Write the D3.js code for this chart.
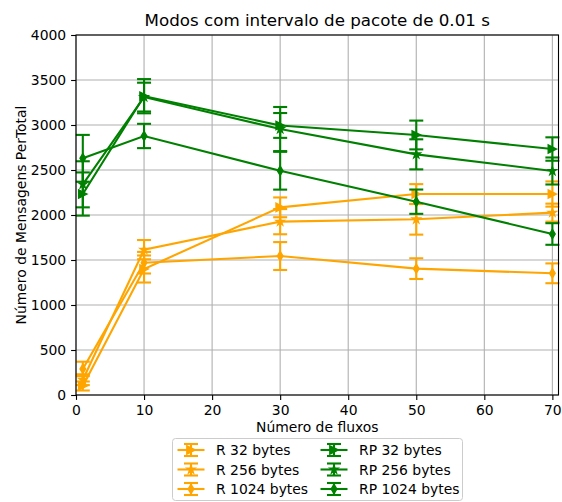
<!DOCTYPE html>
<html>
<head>
<meta charset="utf-8">
<script src="https://cdn.jsdelivr.net/npm/d3@7"></script>
<style>
  body { margin: 0; background: #fff; }
  svg { font-family: "DejaVu Sans", sans-serif; display: block; }
</style>
</head>
<body>
<div id="chart"></div>
<script>
// x values (number of flows)
var xVals = [1, 10, 30, 50, 70];

// series values and error sizes
var r32 = [100, 1400, 2085, 2233, 2233];
var r32Err = [50, 150, 110, 110, 140];
var r256 = [170, 1615, 1926, 1952, 2026];
var r256Err = [60, 107, 140, 170, 100];
var r1024 = [290, 1470, 1544, 1404, 1352];
var r1024Err = [80, 120, 155, 115, 110];
var rp32 = [2233, 3320, 2995, 2889, 2733];
var rp32Err = [240, 190, 138, 160, 130];
var rp256 = [2341, 3310, 2955, 2674, 2489];
var rp256Err = [256, 160, 245, 167, 150];
var rp1024 = [2630, 2878, 2492, 2148, 1789];
var rp1024Err = [260, 135, 210, 135, 120];

var seriesNames = ["R 32 bytes", "R 256 bytes", "R 1024 bytes", "RP 32 bytes", "RP 256 bytes", "RP 1024 bytes"];
var xTicks = [0, 10, 20, 30, 40, 50, 60, 70];
var yTicks = [0, 500, 1000, 1500, 2000, 2500, 3000, 3500, 4000];

var orange = "#ffa500", green = "#008000";

var series = [
    { name: seriesNames[0], values: r32, err: r32Err, color: orange, marker: "tri" },
    { name: seriesNames[1], values: r256, err: r256Err, color: orange, marker: "star" },
    { name: seriesNames[2], values: r1024, err: r1024Err, color: orange, marker: "dia" },
    { name: seriesNames[3], values: rp32, err: rp32Err, color: green, marker: "tri" },
    { name: seriesNames[4], values: rp256, err: rp256Err, color: green, marker: "star" },
    { name: seriesNames[5], values: rp1024, err: rp1024Err, color: green, marker: "dia" }
];

var W = 562, H = 502;
var margin = { top: 35, right: 3.5, bottom: 107, left: 76 },
    width = W - margin.left - margin.right,
    height = H - margin.top - margin.bottom;

var svg = d3.select("#chart").append("svg")
    .attr("width", W)
    .attr("height", H);

var g = svg.append("g")
    .attr("transform", "translate(" + margin.left + "," + margin.top + ")");

// scales
var xScale = d3.scaleLinear().domain([0, 70.9]).range([0, width]);
var yScale = d3.scaleLinear().domain([0, 4000]).range([height, 0]);

// marker paths
function markerPath(type) {
    var r = 4.17;
    if (type === "tri") {
        return "M" + r + ",0L" + (-r) + "," + (-r) + "L" + (-r) + "," + r + "Z";
    }
    if (type === "star") {
        var pts = [], ri = r * 0.382;
        for (var i = 0; i < 10; i++) {
            var a = -Math.PI / 2 + i * Math.PI / 5;
            var rr = i % 2 === 0 ? r : ri;
            pts.push([rr * Math.cos(a), rr * Math.sin(a)]);
        }
        return "M" + pts.map(function (p) { return p[0].toFixed(2) + "," + p[1].toFixed(2); }).join("L") + "Z";
    }
    // thin diamond
    var hh = 4.6, hw = 2.8;
    return "M0," + (-hh) + "L" + hw + ",0L0," + hh + "L" + (-hw) + ",0Z";
}

// grid
g.append("g").selectAll("line").data(xTicks).enter().append("line")
    .attr("x1", function (d) { return xScale(d); })
    .attr("x2", function (d) { return xScale(d); })
    .attr("y1", 0).attr("y2", height)
    .attr("stroke", "#b0b0b0").attr("stroke-width", 1.1);
g.append("g").selectAll("line").data(yTicks).enter().append("line")
    .attr("y1", function (d) { return yScale(d); })
    .attr("y2", function (d) { return yScale(d); })
    .attr("x1", 0).attr("x2", width)
    .attr("stroke", "#b0b0b0").attr("stroke-width", 1.1);

// axes
var xAxis = d3.axisBottom(xScale).tickValues(xTicks).tickSize(4.9).tickPadding(4.9).tickFormat(d3.format("d"));
var yAxis = d3.axisLeft(yScale).tickValues(yTicks).tickSize(4.9).tickPadding(4.9).tickFormat(d3.format("d"));

var gx = g.append("g").attr("transform", "translate(0," + height + ")").call(xAxis);
var gy = g.append("g").call(yAxis);
[gx, gy].forEach(function (ax) {
    ax.select(".domain").remove();
    ax.selectAll("line").attr("stroke", "#000").attr("stroke-width", 1.1);
    ax.selectAll("text").attr("font-size", "13.9px").attr("fill", "#000")
        .attr("font-family", "DejaVu Sans");
});

var line = d3.line()
    .x(function (d) { return xScale(d.x); })
    .y(function (d) { return yScale(d.y); });

var capHalf = 7;

series.forEach(function (s) {
    var pts = xVals.map(function (x, i) { return { x: x, y: s.values[i], e: s.err[i] }; });
    var sg = g.append("g").attr("class", "series");

    sg.append("path")
        .attr("d", line(pts))
        .attr("fill", "none")
        .attr("stroke", s.color)
        .attr("stroke-width", 2.1);

    var eb = sg.selectAll(".eb").data(pts).enter().append("g").attr("class", "eb");
    eb.append("line")
        .attr("x1", function (d) { return xScale(d.x); })
        .attr("x2", function (d) { return xScale(d.x); })
        .attr("y1", function (d) { return yScale(d.y - d.e); })
        .attr("y2", function (d) { return yScale(d.y + d.e); })
        .attr("stroke", s.color).attr("stroke-width", 2.1);
    [-1, 1].forEach(function (sign) {
        eb.append("line")
            .attr("x1", function (d) { return xScale(d.x) - capHalf; })
            .attr("x2", function (d) { return xScale(d.x) + capHalf; })
            .attr("y1", function (d) { return yScale(d.y + sign * d.e); })
            .attr("y2", function (d) { return yScale(d.y + sign * d.e); })
            .attr("stroke", s.color).attr("stroke-width", 2.1);
    });

    sg.selectAll(".mk").data(pts).enter().append("path")
        .attr("class", "mk")
        .attr("d", markerPath(s.marker))
        .attr("transform", function (d) { return "translate(" + xScale(d.x) + "," + yScale(d.y) + ")"; })
        .attr("fill", s.color)
        .attr("stroke", s.color)
        .attr("stroke-width", 1.4)
        .attr("stroke-linejoin", "miter");
});

// spines
g.append("rect")
    .attr("x", 0).attr("y", 0).attr("width", width).attr("height", height)
    .attr("fill", "none").attr("stroke", "#000").attr("stroke-width", 1.1);

// title and labels
svg.append("text")
    .attr("x", margin.left + width / 2).attr("y", 26)
    .attr("text-anchor", "middle")
    .attr("font-size", "16.7px")
    .text("Modos com intervalo de pacote de 0.01 s");

svg.append("text")
    .attr("x", margin.left + width / 2).attr("y", 432)
    .attr("text-anchor", "middle")
    .attr("font-size", "13.9px")
    .text("Número de fluxos");

svg.append("text")
    .attr("transform", "translate(26," + (margin.top + height / 2) + ") rotate(-90)")
    .attr("text-anchor", "middle")
    .attr("font-size", "13.9px")
    .text("Número de Mensagens PerTotal");

// legend
var lg = svg.append("g");
lg.append("rect")
    .attr("x", 172.5).attr("y", 438.5).attr("width", 290).attr("height", 62)
    .attr("rx", 3).attr("fill", "#fff").attr("fill-opacity", 0.8)
    .attr("stroke", "#cccccc").attr("stroke-width", 1);

var colX = [191, 334], textX = [216, 359], rowY = [450, 469.5, 489];
series.forEach(function (s, i) {
    var col = Math.floor(i / 3), row = i % 3;
    var cx = colX[col], cy = rowY[row];
    var it = lg.append("g");
    it.append("line").attr("x1", cx - 13.5).attr("x2", cx + 13.5).attr("y1", cy).attr("y2", cy)
        .attr("stroke", s.color).attr("stroke-width", 2.1);
    it.append("line").attr("x1", cx).attr("x2", cx).attr("y1", cy - 6).attr("y2", cy + 6)
        .attr("stroke", s.color).attr("stroke-width", 2.1);
    [-6, 6].forEach(function (dy) {
        it.append("line").attr("x1", cx - capHalf).attr("x2", cx + capHalf)
            .attr("y1", cy + dy).attr("y2", cy + dy)
            .attr("stroke", s.color).attr("stroke-width", 2.1);
    });
    it.append("path").attr("d", markerPath(s.marker))
        .attr("transform", "translate(" + cx + "," + cy + ")")
        .attr("fill", s.color).attr("stroke", s.color).attr("stroke-width", 1.4);
    it.append("text").attr("x", textX[col]).attr("y", cy + 5)
        .attr("font-size", "13.9px")
        .text(s.name);
});
</script>
</body>
</html>
